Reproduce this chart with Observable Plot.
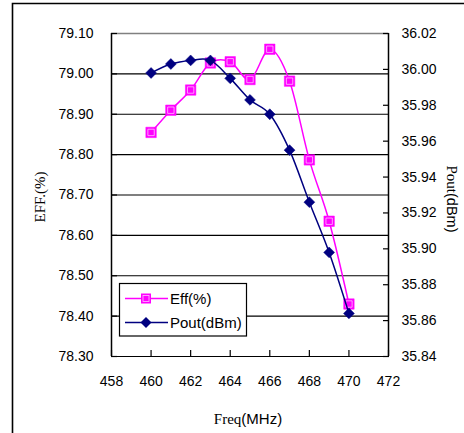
<!DOCTYPE html>
<html>
<head>
<meta charset="utf-8">
<script src="https://cdn.jsdelivr.net/npm/d3@7"></script>
<script src="https://cdn.jsdelivr.net/npm/@observablehq/plot@0.6"></script>
<style>
  html, body { margin: 0; padding: 0; background: white; }
  #chart { position: relative; width: 464px; height: 433px; }
</style>
</head>
<body>
<div id="chart"></div>
<script>
// ---- data ----
const freq = [460, 461, 462, 463, 464, 465, 466, 467, 468, 469, 470];
const eff = [78.855, 78.91, 78.96, 79.027, 79.03, 78.986, 79.061, 78.982, 78.787, 78.635, 78.43];
const pout = [35.998, 36.003, 36.005, 36.005, 35.995, 35.983, 35.975, 35.955, 35.926, 35.898, 35.864];
const effTicks = [78.30, 78.40, 78.50, 78.60, 78.70, 78.80, 78.90, 79.00, 79.10];
const poutTicks = [35.84, 35.86, 35.88, 35.90, 35.92, 35.94, 35.96, 35.98, 36.00, 36.02];
const freqTicks = [458, 460, 462, 464, 466, 468, 470, 472];
const seriesNames = ["Eff(%)", "Pout(dBm)"];

// map right-axis (Pout) values onto the left (Eff) scale domain
const effDom = [effTicks[0], effTicks[effTicks.length - 1]];
const poutDom = [poutTicks[0], poutTicks[poutTicks.length - 1]];
const pToY = p => effDom[0] + (p - poutDom[0]) / (poutDom[1] - poutDom[0]) * (effDom[1] - effDom[0]);
const yToP = y => poutDom[0] + (y - effDom[0]) / (effDom[1] - effDom[0]) * (poutDom[1] - poutDom[0]);

const effData = freq.map((f, i) => ({x: f, y: eff[i]}));
const poutData = freq.map((f, i) => ({x: f, y: pToY(pout[i])}));

const MAG = "#FF00FF", NAVY = "#000080";

const plot = Plot.plot({
  width: 464, height: 433,
  marginLeft: 111, marginRight: 76, marginTop: 33, marginBottom: 77,
  style: {fontFamily: "'Liberation Sans', Arial, sans-serif", fontSize: "14px", color: "black", background: "white", overflow: "visible"},
  x: {domain: [freqTicks[0], freqTicks[freqTicks.length - 1]]},
  y: {domain: effDom},
  marks: [
    Plot.ruleY(effTicks.slice(0, -1), {stroke: "black", strokeWidth: 1.2}),
    Plot.ruleY([effDom[1]], {stroke: "#808080", strokeWidth: 1.5}),
    Plot.ruleX([freqTicks[0], freqTicks[freqTicks.length - 1]], {stroke: "black", strokeWidth: 1.5}),
    Plot.axisY({ticks: effTicks, tickFormat: d => d.toFixed(2), tickSize: -6, tickPadding: 24, label: null, strokeWidth: 1.2}),
    Plot.axisY({anchor: "right", ticks: poutTicks.map(pToY), tickFormat: d => yToP(d).toFixed(2), tickSize: -6, tickPadding: 19, label: null, strokeWidth: 1.2}),
    Plot.axisX({ticks: freqTicks, tickFormat: d => String(d), tickSize: -6, tickPadding: 26, label: null, strokeWidth: 1.2}),
    Plot.line(effData, {x: "x", y: "y", stroke: MAG, strokeWidth: 1.5, curve: "cardinal"}),
    Plot.dot(effData, {x: "x", y: "y", symbol: "square", r: 5.9, fill: MAG, stroke: MAG, strokeWidth: 0.5}),
    Plot.dot(effData, {x: "x", y: "y", symbol: "square", r: 3.6, fill: "none", stroke: "#ffc0ff", strokeWidth: 0.8}),
    Plot.line(poutData, {x: "x", y: "y", stroke: NAVY, strokeWidth: 1.5, curve: "cardinal"}),
    Plot.dot(poutData, {x: "x", y: "y", symbol: "diamond2", r: 4.9, fill: NAVY, stroke: NAVY, strokeWidth: 0.5})
  ]
});

document.getElementById("chart").appendChild(plot);

// ---- decorations: outer frame, axis titles, legend ----
const svg = d3.select(plot);
svg.append("path").attr("d", "M12.5,433 L12.5,3.5 L464,3.5").attr("fill", "none").attr("stroke", "black").attr("stroke-width", 1.6);

// y-left title
svg.append("text").attr("transform", "translate(45,197) rotate(-90)")
  .attr("text-anchor", "middle").attr("font-family", "'Liberation Serif', 'Times New Roman', serif")
  .attr("font-size", 15).attr("fill", "black").text("EFF.(%)");
// y-right title
const tr = svg.append("text").attr("transform", "translate(447,199) rotate(90)")
  .attr("text-anchor", "middle").attr("fill", "black");
tr.append("tspan").attr("font-family", "'Liberation Serif', 'Times New Roman', serif").attr("font-size", 15).text("Pout");
tr.append("tspan").attr("font-family", "'Liberation Sans', Arial, sans-serif").attr("font-size", 14.5).text("(dBm)");
// x title
const tx = svg.append("text").attr("x", 248).attr("y", 424).attr("text-anchor", "middle").attr("fill", "black");
tx.append("tspan").attr("font-family", "'Liberation Serif', 'Times New Roman', serif").attr("font-size", 15).text("Freq");
tx.append("tspan").attr("font-family", "'Liberation Sans', Arial, sans-serif").attr("font-size", 15).text("(MHz)");

// legend
const lg = svg.append("g");
lg.append("rect").attr("x", 119.5).attr("y", 283.5).attr("width", 127).attr("height", 52.5)
  .attr("fill", "white").attr("stroke", "black").attr("stroke-width", 1.2);
const rows = [{name: seriesNames[0], color: MAG, y: 298.5, sym: "sq"}, {name: seriesNames[1], color: NAVY, y: 322.5, sym: "di"}];
rows.forEach(r => {
  lg.append("line").attr("x1", 125).attr("x2", 168).attr("y1", r.y).attr("y2", r.y).attr("stroke", r.color).attr("stroke-width", 1.5);
  if (r.sym === "sq") {
    lg.append("rect").attr("x", 141).attr("y", r.y - 5).attr("width", 10).attr("height", 10).attr("fill", r.color);
    lg.append("rect").attr("x", 143).attr("y", r.y - 3).attr("width", 6).attr("height", 6).attr("fill", "none").attr("stroke", "#ffc0ff").attr("stroke-width", 0.8);
  } else {
    lg.append("path").attr("d", `M146,${r.y - 5.5} L151.5,${r.y} L146,${r.y + 5.5} L140.5,${r.y} Z`).attr("fill", r.color);
  }
  lg.append("text").attr("x", 170).attr("y", r.y).attr("dy", "0.36em").attr("font-size", 15)
    .attr("text-anchor", "start")
    .attr("font-family", "'Liberation Sans', Arial, sans-serif").attr("fill", "black").text(r.name);
});
</script>
</body>
</html>
